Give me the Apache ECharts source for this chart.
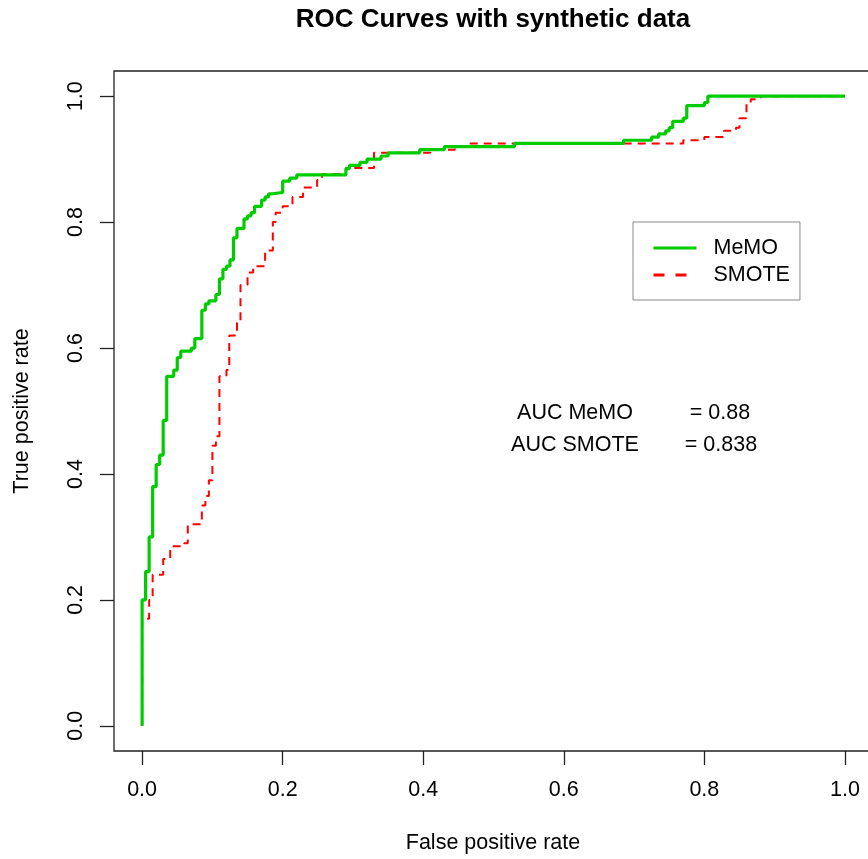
<!DOCTYPE html>
<html><head><meta charset="utf-8">
<script src="https://cdn.jsdelivr.net/npm/echarts@6/dist/echarts.min.js"></script>
<style>html,body{margin:0;padding:0;background:#fff}#c{width:868px;height:859px}</style>
</head><body><div id="c"></div>
<script>
// ---- data ----
const titleText = 'ROC Curves with synthetic data';
const xName = 'False positive rate';
const yName = 'True positive rate';
const seriesNames = ['MeMO', 'SMOTE'];

const memoFpr = [0, 0, 0.005, 0.01, 0.015, 0.02, 0.025, 0.03, 0.035, 0.045, 0.05, 0.055, 0.07, 0.075, 0.085, 0.09, 0.095, 0.105, 0.11, 0.115, 0.12, 0.125, 0.13, 0.135, 0.145, 0.15, 0.155, 0.16, 0.17, 0.175, 0.18, 0.185, 0.2, 0.21, 0.22, 0.29, 0.295, 0.31, 0.32, 0.34, 0.35, 0.395, 0.43, 0.53, 0.685, 0.725, 0.735, 0.745, 0.75, 0.755, 0.77, 0.775, 0.8, 0.805, 1.0];
const memoTpr = [0, 0.2, 0.245, 0.3, 0.38, 0.415, 0.43, 0.485, 0.555, 0.565, 0.585, 0.595, 0.6, 0.615, 0.66, 0.67, 0.675, 0.685, 0.71, 0.725, 0.73, 0.74, 0.775, 0.79, 0.805, 0.81, 0.815, 0.825, 0.835, 0.84, 0.845, 0.847, 0.865, 0.87, 0.875, 0.885, 0.89, 0.895, 0.9, 0.905, 0.91, 0.915, 0.92, 0.925, 0.93, 0.935, 0.94, 0.945, 0.95, 0.96, 0.965, 0.985, 0.99, 1.0, 1.0];

const smoteFpr = [0, 0, 0.01, 0.015, 0.03, 0.04, 0.06, 0.065, 0.085, 0.09, 0.095, 0.1, 0.105, 0.11, 0.12, 0.124, 0.135, 0.14, 0.15, 0.158, 0.175, 0.186, 0.19, 0.2, 0.214, 0.229, 0.249, 0.256, 0.29, 0.33, 0.41, 0.445, 0.46, 0.77, 0.8, 0.828, 0.845, 0.85, 0.86, 0.866, 0.88, 1.0];
const smoteTpr = [0, 0.17, 0.2, 0.24, 0.265, 0.285, 0.29, 0.32, 0.35, 0.365, 0.39, 0.445, 0.46, 0.555, 0.565, 0.62, 0.64, 0.70, 0.72, 0.73, 0.755, 0.80, 0.815, 0.825, 0.84, 0.855, 0.867, 0.876, 0.886, 0.91, 0.915, 0.92, 0.925, 0.93, 0.935, 0.945, 0.95, 0.965, 0.99, 0.995, 1.0, 1.0];

const tickValues = [0, 0.2, 0.4, 0.6, 0.8, 1.0];
const tickLabels = ['0.0', '0.2', '0.4', '0.6', '0.8', '1.0'];

const aucLabels = ['AUC MeMO', 'AUC SMOTE'];
const aucValues = ['= 0.88', '= 0.838'];

// ---- chart ----
const FONT = '"Liberation Sans", Arial, sans-serif';
const FS = 21.5;
const pairs = (xs, ys) => xs.map((x, i) => [x, ys[i]]);
const fmt = v => {
  const i = tickValues.findIndex(t => Math.abs(t - v) < 1e-9);
  return i >= 0 ? tickLabels[i] : '';
};

const chart = echarts.init(document.getElementById('c'), null, {renderer: 'canvas'});

const axisCommon = {
  type: 'value', min: -0.04, max: 1.04,
  axisLine: {show: false, onZero: false},
  splitLine: {show: false},
  axisTick: {show: true, inside: false, customValues: tickValues, length: 14, lineStyle: {color: '#222', width: 1.3}},
};

const hiddenSymbol = {color: 'transparent', borderColor: 'transparent', borderWidth: 0, opacity: 0};

const option = {
  animation: false,
  backgroundColor: '#fff',
  title: {
    text: titleText, left: 493, textAlign: 'center', top: 7, padding: 0,
    textStyle: {fontFamily: FONT, fontSize: 26, fontWeight: 'bold', color: '#000'}
  },
  grid: {
    left: 114, top: 71, width: 759, height: 680,
    show: true, borderColor: '#222', borderWidth: 1.3, backgroundColor: 'transparent',
    containLabel: false, outerBoundsMode: 'none'
  },
  xAxis: Object.assign({}, axisCommon, {
    position: 'bottom',
    axisLabel: {customValues: tickValues, formatter: fmt, margin: 28, fontFamily: FONT, fontSize: FS, color: '#000'}
  }),
  yAxis: Object.assign({}, axisCommon, {
    position: 'left',
    axisLabel: {customValues: tickValues, formatter: fmt, margin: 27, rotate: 90, fontFamily: FONT, fontSize: FS, color: '#000'}
  }),
  legend: {
    orient: 'vertical', left: 633, top: 222,
    padding: [15, 10, 14, 19],
    itemWidth: 43, itemHeight: 14, itemGap: 5,
    borderColor: '#888', borderWidth: 1, backgroundColor: '#fff',
    textStyle: {fontFamily: FONT, fontSize: FS, color: '#000', padding: [0, 0, 0, 12]},
    itemStyle: hiddenSymbol,
    data: [
      {name: seriesNames[0], lineStyle: {width: 3}, itemStyle: hiddenSymbol},
      {name: seriesNames[1], lineStyle: {width: 3, type: [11, 11]}, itemStyle: hiddenSymbol}
    ]
  },
  series: [
    {
      name: seriesNames[1], type: 'line', step: 'end', symbol: 'none', silent: true, z: 2,
      data: pairs(smoteFpr, smoteTpr),
      lineStyle: {color: '#ff0000', width: 2, type: [8, 6]},
      itemStyle: {color: '#ff0000'}
    },
    {
      name: seriesNames[0], type: 'line', step: 'end', symbol: 'none', silent: true, z: 3,
      data: pairs(memoFpr, memoTpr),
      lineStyle: {color: '#00cc00', width: 3.2},
      itemStyle: {color: '#00cc00'}
    }
  ],
  graphic: [
    {type: 'text', x: 493, y: 843, style: {text: xName, fontFamily: FONT, fontSize: FS, fill: '#000', align: 'center', verticalAlign: 'middle'}},
    {type: 'text', x: 22, y: 411, rotation: Math.PI / 2, style: {text: yName, fontFamily: FONT, fontSize: FS, fill: '#000', align: 'center', verticalAlign: 'middle'}},
    {type: 'text', x: 575, y: 413, style: {text: aucLabels[0], fontFamily: FONT, fontSize: FS, fill: '#000', align: 'center', verticalAlign: 'middle'}},
    {type: 'text', x: 575, y: 445, style: {text: aucLabels[1], fontFamily: FONT, fontSize: FS, fill: '#000', align: 'center', verticalAlign: 'middle'}},
    {type: 'text', x: 720, y: 413, style: {text: aucValues[0], fontFamily: FONT, fontSize: FS, fill: '#000', align: 'center', verticalAlign: 'middle'}},
    {type: 'text', x: 721, y: 445, style: {text: aucValues[1], fontFamily: FONT, fontSize: FS, fill: '#000', align: 'center', verticalAlign: 'middle'}}
  ]
};
chart.setOption(option);
</script>
</body></html>
